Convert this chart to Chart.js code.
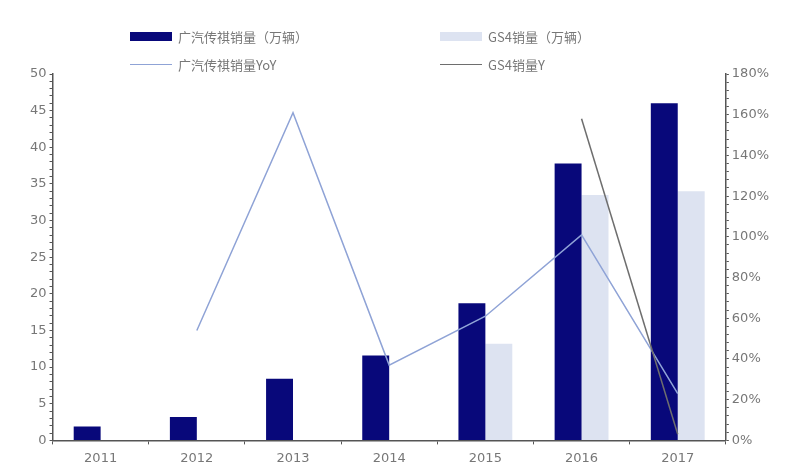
<!DOCTYPE html>
<html>
<head>
<meta charset="utf-8">
<script src="https://cdn.jsdelivr.net/npm/chart.js@4.4.1/dist/chart.umd.min.js"></script>
<style>
  body { margin: 0; background: #fff; }
  #wrap { position: relative; width: 800px; height: 475px; }
  #legend { position: absolute; left: 130px; top: 27px; width: 600px;
            font-family: "Noto Sans CJK SC", sans-serif; font-size: 13px; color: #777; }
  .item { position: absolute; display: flex; align-items: center; white-space: nowrap; }
  .swatch { width: 42px; margin-right: 6px; }
</style>
</head>
<body>
<div id="wrap">
  <canvas id="myChart" width="800" height="475"></canvas>
  <div id="legend"></div>
</div>
<script>
var years = ['2011', '2012', '2013', '2014', '2015', '2016', '2017'];
var gacSales = [1.9, 3.2, 8.4, 11.6, 18.7, 37.8, 46.0];
var gs4Sales = [null, null, null, null, 13.2, 33.5, 34.0];
var gacYoY = [null, 54, 161, 37, 61, 101, 23];
var gs4YoY = [null, null, null, null, null, 158, 3];

var ctx = document.getElementById('myChart');
var tickFont = { family: 'DejaVu Sans', size: 13 };

var myChart = new Chart(ctx, {
    data: {
        labels: years,
        datasets: [{
            type: 'bar',
            label: '广汽传祺销量（万辆）',
            data: gacSales,
            backgroundColor: '#08087a',
            yAxisID: 'y',
            categoryPercentage: 0.56,
            barPercentage: 1,
            order: 2
        }, {
            type: 'bar',
            label: 'GS4销量（万辆）',
            data: gs4Sales,
            backgroundColor: '#dde3f1',
            yAxisID: 'y',
            categoryPercentage: 0.56,
            barPercentage: 1,
            order: 2
        }, {
            type: 'line',
            label: '广汽传祺销量YoY',
            data: gacYoY,
            borderColor: '#8fa3d6',
            borderWidth: 1.5,
            pointRadius: 0,
            yAxisID: 'y2',
            order: 1
        }, {
            type: 'line',
            label: 'GS4销量Y',
            data: gs4YoY,
            borderColor: '#6e6e6e',
            borderWidth: 1.5,
            pointRadius: 0,
            yAxisID: 'y2',
            order: 0
        }]
    },
    options: {
        responsive: false,
        animation: false,
        layout: { padding: { top: 74, left: 27, right: 28, bottom: 3 } },
        plugins: { legend: { display: false }, tooltip: { enabled: false } },
        scales: {
            x: {
                offset: true,
                grid: { display: true, drawOnChartArea: false, offset: true, color: '#555', tickLength: 4 },
                border: { color: '#555', width: 1.5 },
                ticks: { font: tickFont, color: '#777', padding: 6 }
            },
            y: {
                position: 'left',
                min: 0, max: 50,
                grid: { drawOnChartArea: false, color: '#555', tickLength: 3 },
                border: { color: '#555', width: 1.5 },
                ticks: {
                    stepSize: 1, autoSkip: false, font: tickFont, color: '#777',
                    callback: function (v) { return v % 5 === 0 ? v : ''; }
                }
            },
            y2: {
                position: 'right',
                min: 0, max: 180,
                grid: { drawOnChartArea: false, color: '#555', tickLength: 3 },
                border: { color: '#555', width: 1.5 },
                ticks: {
                    stepSize: 4, autoSkip: false, font: tickFont, color: '#777',
                    callback: function (v) { return v % 20 === 0 ? v + '%' : ''; }
                }
            }
        }
    }
});

// legend laid out as 2 x 2 like the original
var legend = document.getElementById('legend');
var spots = [[0, 0], [310, 0], [0, 28], [310, 28]];
myChart.data.datasets.forEach(function (ds, i) {
    var item = document.createElement('div');
    item.className = 'item';
    item.style.left = spots[i][0] + 'px';
    item.style.top = spots[i][1] + 'px';
    var sw = document.createElement('span');
    sw.className = 'swatch';
    if (ds.type === 'bar') {
        sw.style.height = '9px';
        sw.style.background = ds.backgroundColor;
    } else {
        sw.style.height = '0';
        sw.style.borderTop = '1.5px solid ' + ds.borderColor;
    }
    var txt = document.createElement('span');
    txt.textContent = ds.label;
    item.appendChild(sw);
    item.appendChild(txt);
    legend.appendChild(item);
});
</script>
</body>
</html>
